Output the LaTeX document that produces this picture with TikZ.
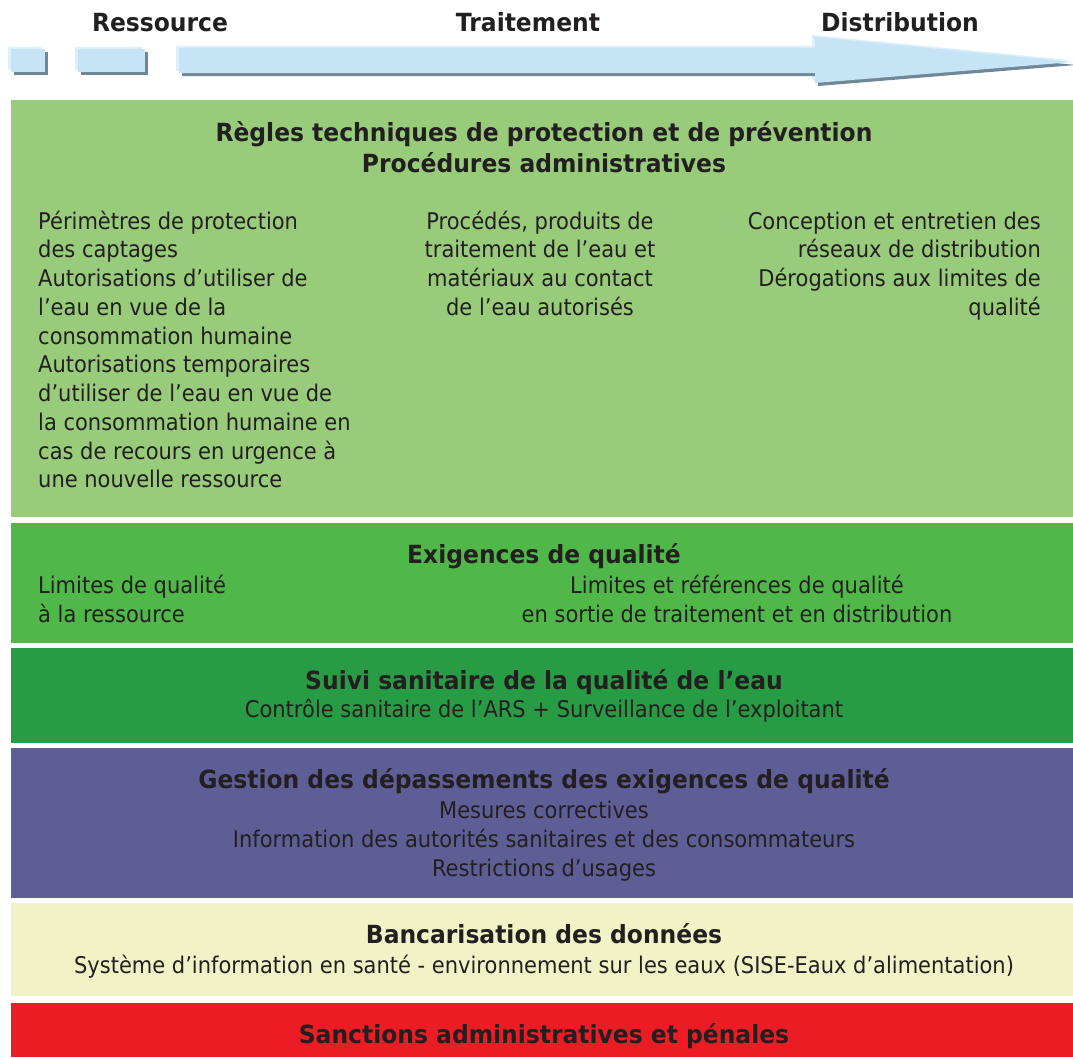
\documentclass[tikz,border=0pt]{standalone}
\usepackage{fontspec}
\setmainfont{DejaVu Sans}[FakeStretch=0.913,BoldFeatures={FakeStretch=0.937}]
\definecolor{lg}{HTML}{98CC7B}
\definecolor{mg}{HTML}{50B848}
\definecolor{dg}{HTML}{289B45}
\definecolor{pu}{HTML}{5D5E96}
\definecolor{cr}{HTML}{F1F3C6}
\definecolor{rd}{HTML}{EC1C24}
\definecolor{ink}{HTML}{231F20}
\definecolor{arr}{HTML}{C6E4F6}
\definecolor{arrhl}{HTML}{DCEFFA}
\definecolor{arrsh}{HTML}{6F8796}
\begin{document}
\begin{tikzpicture}[x=1pt,y=-1pt,
  txt/.style={text=ink,inner sep=0pt,font=\fontsize{23}{28}\selectfont},
  ttl/.style={text=ink,inner sep=0pt,font=\fontsize{25}{30}\selectfont\bfseries},
  hdr/.style={text=ink,inner sep=0pt,font=\fontsize{25}{30}\selectfont\bfseries}]
\useasboundingbox (0,0) rectangle (1073,1057);
% header labels
\node[hdr,anchor=base] (hres) at (160,32) {Ressource};
\node[hdr,anchor=base] (htra) at (528,32) {Traitement};
\node[hdr,anchor=base] (hdis) at (900,32) {Distribution};
% arrow pieces: highlight, shadow, body
\foreach \dx/\dy/\c in {-3/-2/arrhl,3/3/arrsh,0/0/arr}{
  \begin{scope}[shift={(\dx,\dy)}]
    \fill[\c] (11,49) rectangle (45,72);
    \fill[\c] (78,49) rectangle (145,72);
    \fill[\c] (179,48) -- (815,48) -- (815,37) -- (1073,62) -- (815,83) -- (815,73) -- (179,73) -- cycle;
  \end{scope}}
% bands
\fill[lg] (11,100) rectangle (1073,517);
\fill[mg] (11,523) rectangle (1073,643);
\fill[dg] (11,648) rectangle (1073,743);
\fill[pu] (11,748) rectangle (1073,898);
\fill[cr] (11,903) rectangle (1073,996);
\fill[rd] (11,1003) rectangle (1073,1057);
% band 1
\node[ttl,anchor=base] (t1a) at (544,141) {Règles techniques de protection et de prévention};
\node[ttl,anchor=base] (t1b) at (544,172) {Procédures administratives};
\foreach \t [count=\i] in {{Périmètres de protection},{des captages},{Autorisations d’utiliser de},{l’eau en vue de la},{consommation humaine},{Autorisations temporaires},{d’utiliser de l’eau en vue de},{la consommation humaine en},{cas de recours en urgence à},{une nouvelle ressource}}
  \node[txt,anchor=base west] (res\i) at (38,{229+28.75*(\i-1)}) {\t};
\foreach \t [count=\i] in {{Procédés, produits de},{traitement de l’eau et},{matériaux au contact},{de l’eau autorisés}}
  \node[txt,anchor=base] (tra\i) at (540,{229+28.75*(\i-1)}) {\t};
\foreach \t [count=\i] in {{Conception et entretien des},{réseaux de distribution},{Dérogations aux limites de},{qualité}}
  \node[txt,anchor=base east] (dis\i) at (1041,{229+28.75*(\i-1)}) {\t};
% band 2
\node[ttl,anchor=base] (t2) at (544,563) {Exigences de qualité};
\node[txt,anchor=base west] (q1) at (38,593) {Limites de qualité};
\node[txt,anchor=base west] (q2) at (38,622) {à la ressource};
\node[txt,anchor=base] (q3) at (737,593) {Limites et références de qualité};
\node[txt,anchor=base] (q4) at (737,622) {en sortie de traitement et en distribution};
% band 3
\node[ttl,anchor=base] (t3) at (544,689) {Suivi sanitaire de la qualité de l’eau};
\node[txt,anchor=base] (s1) at (544,717) {Contrôle sanitaire de l’ARS + Surveillance de l’exploitant};
% band 4
\node[ttl,anchor=base] (t4) at (544,788) {Gestion des dépassements des exigences de qualité};
\node[txt,anchor=base] (g1) at (544,818) {Mesures correctives};
\node[txt,anchor=base] (g2) at (544,847) {Information des autorités sanitaires et des consommateurs};
\node[txt,anchor=base] (g3) at (544,876) {Restrictions d’usages};
% band 5
\node[ttl,anchor=base] (t5) at (544,943) {Bancarisation des données};
\node[txt,anchor=base] (b1) at (544,973) {Système d’information en santé - environnement sur les eaux (SISE-Eaux d’alimentation)};
% band 6
\node[ttl,anchor=base] (t6) at (544,1043) {Sanctions administratives et pénales};
\end{tikzpicture}
\end{document}
